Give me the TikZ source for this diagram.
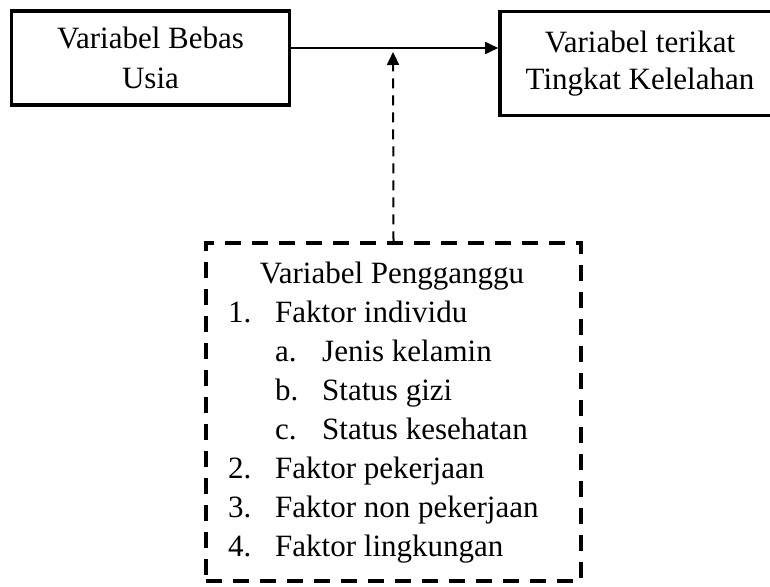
\documentclass[tikz,border=0pt]{standalone}
\usepackage{fontspec}
\setmainfont{Liberation Serif}
\usetikzlibrary{arrows.meta}
\begin{document}
\begin{tikzpicture}[x=1pt,y=-1pt,
  font=\fontsize{31}{39}\selectfont,
  boxsolid/.style={draw, line width=3.6pt, inner sep=0pt, align=center},
  boxdash/.style={draw, line width=3.4pt, dash pattern=on 16pt off 11pt, inner sep=0pt},
  itm/.style={anchor=base west, inner sep=0pt},
  tip/.style={-{Triangle[length=13pt,width=12pt]}},
]
\useasboundingbox (0,0) rectangle (770,586);
\clip (0,0) rectangle (770,586);
\fill[white] (0,0) rectangle (770,586);
\node[boxsolid, minimum width=278pt, minimum height=94pt, font=\fontsize{31}{40}\selectfont] (box1) at (150.5,58) {Variabel Bebas\\Usia};
\node[boxsolid, minimum width=280pt, minimum height=104pt, font=\fontsize{31}{37}\selectfont] (box2) at (640,63.5) {Variabel terikat\\Tingkat Kelelahan};
\node[boxdash, minimum width=375pt, minimum height=338pt] (conf) at (393.5,412) {};
\coordinate (jn) at (393,48);
\draw[tip, line width=1.8pt] (box1.east |- jn) -- (box2.west |- jn);
\draw[tip, line width=2pt, dash pattern=on 10pt off 7pt] (conf.north) -- ([yshift=-4pt]jn);
\node[anchor=base, inner sep=0pt] (t0) at (392,283) {Variabel Pengganggu};
\node[itm] (n1) at (228,322) {1.};
\node[itm] (f1) at (275,322) {Faktor individu};
\node[itm] (na) at (275,361) {a.};
\node[itm] (fa) at (322,361) {Jenis kelamin};
\node[itm] (nb) at (275,400) {b.};
\node[itm] (fb) at (322,400) {Status gizi};
\node[itm] (nc) at (275,439) {c.};
\node[itm] (fc) at (322,439) {Status kesehatan};
\node[itm] (n2) at (228,478) {2.};
\node[itm] (f2) at (275,478) {Faktor pekerjaan};
\node[itm] (n3) at (228,517) {3.};
\node[itm] (f3) at (275,517) {Faktor non pekerjaan};
\node[itm] (n4) at (228,556) {4.};
\node[itm] (f4) at (275,556) {Faktor lingkungan};
\end{tikzpicture}
\end{document}
